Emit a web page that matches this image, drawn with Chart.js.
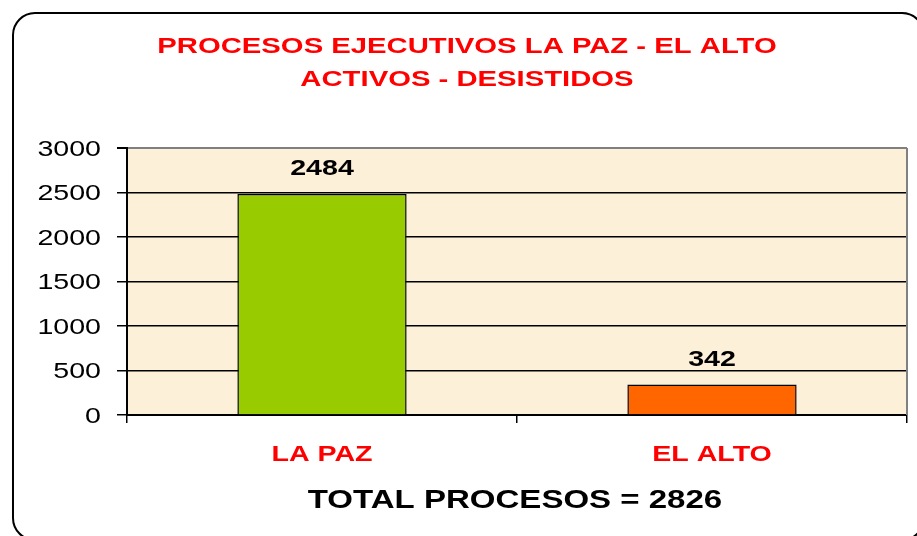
<!DOCTYPE html>
<html>
<head>
<meta charset="utf-8">
<script src="https://cdn.jsdelivr.net/npm/chart.js@4.4.1/dist/chart.umd.min.js"></script>
<style>
  html, body { margin: 0; padding: 0; background: #fff; }
  #wrap { width: 917px; height: 536px; }
</style>
</head>
<body>
<div id="wrap"><canvas id="chart" width="917" height="536"></canvas></div>
<script>
const titleLines = ["PROCESOS EJECUTIVOS LA PAZ - EL ALTO", "ACTIVOS - DESISTIDOS"];
const categories = ["LA PAZ", "EL ALTO"];
const procesos = [2484, 342];
const barColors = ["#99CC00", "#FF6600"];
const yTicks = [0, 500, 1000, 1500, 2000, 2500, 3000];
const totalLabel = "TOTAL PROCESOS = 2826";

const FONT = "'Liberation Sans', Arial, sans-serif";
const STRETCH = 1.3; // the original's text is drawn wide

function wideText(ctx, text, x, y, font, color, align, sx) {
  ctx.save();
  ctx.font = font;
  ctx.fillStyle = color;
  ctx.textAlign = align;
  ctx.textBaseline = "middle";
  ctx.translate(x, y + 1.5);
  ctx.scale(sx || STRETCH, 1);
  ctx.fillText(text, 0, 0);
  ctx.restore();
}

// rounded frame + beige plot background + gray right plot border
const framePlugin = {
  id: "frame",
  beforeDraw(chart) {
    const { ctx, chartArea: a } = chart;
    ctx.save();
    ctx.fillStyle = "#FCF0D9";
    ctx.fillRect(a.left, a.top, a.right - a.left, a.bottom - a.top);
    ctx.restore();
  },
  afterDraw(chart) {
    const { ctx, chartArea: a } = chart;
    ctx.save();
    ctx.strokeStyle = "#808080";
    ctx.lineWidth = 2;
    ctx.beginPath();
    ctx.moveTo(a.right, a.bottom);
    ctx.lineTo(a.right, a.top);
    ctx.stroke();
    ctx.strokeStyle = "#000";
    ctx.lineWidth = 2;
    ctx.beginPath();
    ctx.roundRect(13, 13, 911, 527, 22);
    ctx.stroke();
    ctx.restore();
  },
};

// all the text: title, tick labels, value labels, total
const textPlugin = {
  id: "texts",
  afterDraw(chart) {
    const { ctx, scales } = chart;
    const cx = 467;
    wideText(ctx, titleLines[0], cx, 45, "bold 22px " + FONT, "#FF0000", "center", 1.33);
    wideText(ctx, titleLines[1], cx, 78, "bold 22px " + FONT, "#FF0000", "center", 1.33);

    yTicks.forEach((v) => {
      wideText(ctx, String(v), 101, scales.y.getPixelForValue(v), "22px " + FONT, "#000", "right");
    });

    categories.forEach((c, i) => {
      wideText(ctx, c, scales.x.getPixelForValue(i), 453, "bold 22px " + FONT, "#FF0000", "center");
    });

    const meta = chart.getDatasetMeta(0);
    meta.data.forEach((bar, i) => {
      wideText(ctx, String(procesos[i]), bar.x, bar.y - 26, "bold 22px " + FONT, "#000", "center");
    });

    wideText(ctx, totalLabel, 515, 499, "bold 26px " + FONT, "#000", "center", 1.27);
  },
};

new Chart(document.getElementById("chart"), {
  type: "bar",
  data: {
    labels: categories,
    datasets: [
      {
        data: procesos,
        backgroundColor: barColors,
        borderColor: "#000",
        borderWidth: 1.5,
        categoryPercentage: 1,
        barPercentage: 0.434,
      },
    ],
  },
  options: {
    responsive: false,
    animation: false,
    layout: { padding: { left: 17, right: 10, top: 148, bottom: 0 } },
    plugins: {
      legend: { display: false },
      tooltip: { enabled: false },
      title: { display: false },
    },
    scales: {
      x: {
        afterFit(scale) { scale.height = 121; },
        grid: { offset: true, drawOnChartArea: false, drawTicks: true, tickLength: 8, color: "#000", lineWidth: 1.5 },
        border: { color: "#000", width: 2 },
        ticks: { display: false },
      },
      y: {
        min: 0,
        max: 3000,
        afterFit(scale) { scale.width = 110; },
        afterBuildTicks(scale) { scale.ticks = yTicks.map((v) => ({ value: v })); },
        grid: {
          color: (c) => (c.tick && c.tick.value === 3000 ? "#808080" : "#000"),
          tickColor: "#000",
          lineWidth: (c) => (c.tick && c.tick.value === 3000 ? 2 : 1.5),
          tickLength: 10,
        },
        border: { color: "#000", width: 2 },
        ticks: { display: false },
      },
    },
  },
  plugins: [framePlugin, textPlugin],
});
</script>
</body>
</html>
